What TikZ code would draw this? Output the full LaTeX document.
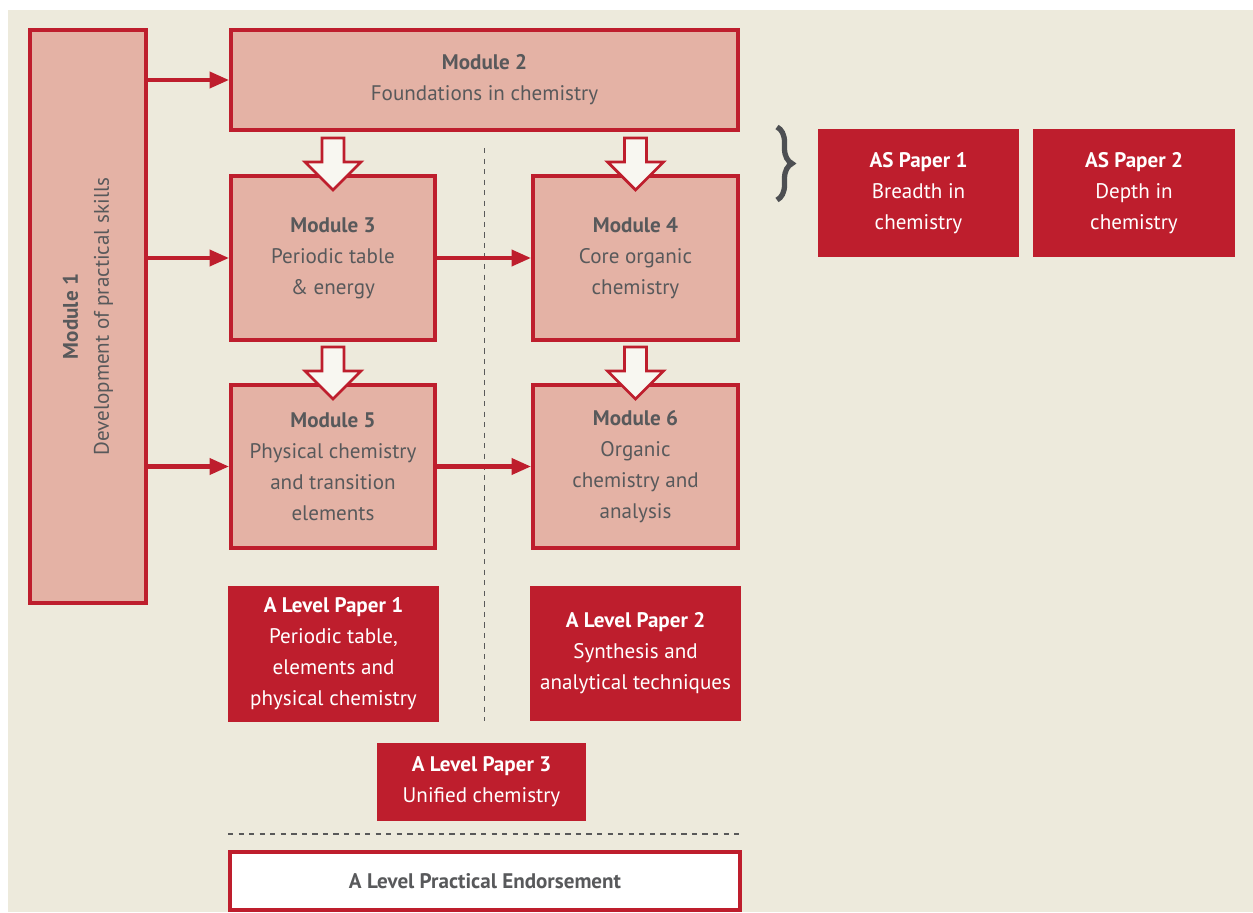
\documentclass[tikz,border=0pt]{standalone}
\usepackage{fontspec}
\setmainfont{PT Sans}
\usetikzlibrary{arrows.meta,calc,decorations.pathreplacing}
\definecolor{ocrred}{HTML}{BE1E2D}
\definecolor{modfill}{HTML}{E4B2A5}
\definecolor{paper}{HTML}{EDEADC}
\definecolor{inkgray}{HTML}{58595B}
\definecolor{bracegray}{HTML}{4D4F52}

% hollow block arrow pointing down onto a module
\newcommand{\blockdown}[1]{%
  \draw[hollow] ($(#1.north)+(0,16)$) -- ++(-28,-28) -- ++(17,0) -- ++(0,-24)
    -- ++(22,0) -- ++(0,24) -- ++(17,0) -- cycle;}

\begin{document}
\begin{tikzpicture}[
        x=0.02cm, y=-0.02cm,
        every node/.style={font=\fontsize{12}{17.6}\selectfont, align=center, inner sep=0pt},
        module/.style={draw=ocrred, line width=2.3pt, fill=modfill, text=inkgray},
        paperbox/.style={fill=ocrred, text=white},
        arrow/.style={-{Triangle[length=11pt,width=9pt]}, line width=2.3pt, ocrred},
        hollow/.style={draw=ocrred, line width=1.6pt, fill=white!60!paper, line join=miter},
        sep/.style={dashed, gray!70!black, line width=0.6pt}
    ]

        % Sfondo
        \useasboundingbox (0,0) rectangle (1253,912);
        \fill[paper] (8,10) rectangle (1253,912);

        % Module 1 (verticale)
        \node[module, minimum width=2.32cm, minimum height=11.46cm] (m1) at (88,316.5) {};
        \node[rotate=90, text=inkgray] (m1txt) at (m1) {\textbf{Module 1}\\Development of practical skills};

        % Moduli
        \node[module, minimum width=10.14cm, minimum height=2cm] (m2) at (484.5,80) {\textbf{Module 2}\\Foundations in chemistry};
        \node[module, minimum width=4.08cm, minimum height=3.28cm] (m3) at (333,258) {\textbf{Module 3}\\Periodic table\\\& energy};
        \node[module, minimum width=4.10cm, minimum height=3.28cm] (m4) at (635.5,258) {\textbf{Module 4}\\Core organic\\chemistry};
        \node[module, minimum width=4.08cm, minimum height=3.26cm] (m5) at (333,466.5) {\textbf{Module 5}\\Physical chemistry\\and transition\\elements};
        \node[module, minimum width=4.10cm, minimum height=3.26cm] (m6) at (635.5,466.5) {\textbf{Module 6}\\Organic\\chemistry and\\analysis};

        % Papers AS
        \node[paperbox, minimum width=4.02cm, minimum height=2.56cm] (as1) at (918.5,193) {\textbf{AS Paper 1}\\Breadth in\\chemistry};
        \node[paperbox, minimum width=4.04cm, minimum height=2.56cm] (as2) at (1134,193) {\textbf{AS Paper 2}\\Depth in\\chemistry};
        \draw[bracegray, line width=3pt, decorate, decoration={brace, amplitude=0.3cm}]
            (777,127) coordinate (brtop) -- (777,200) coordinate (brbot);

        % Papers A Level
        \node[paperbox, minimum width=4.22cm, minimum height=2.72cm] (alp1) at (333.5,654) {\textbf{A Level Paper 1}\\Periodic table,\\elements and\\physical chemistry};
        \node[paperbox, minimum width=4.22cm, minimum height=2.70cm] (alp2) at (635.5,653.5) {\textbf{A Level Paper 2}\\Synthesis and\\analytical techniques};
        \node[paperbox, minimum width=4.18cm, minimum height=1.56cm] (alp3) at (481.5,782) {\textbf{A Level Paper 3}\\Unified chemistry};

        % Endorsement
        \node[module, fill=white, minimum width=10.2cm, minimum height=1.16cm] (endo) at (485,881) {\textbf{A Level Practical Endorsement}};

        % Separatori
        \draw[sep] ([yshift=-0.32cm]m2.south) -- (m2.south |- alp2.south);
        \draw[sep] ([yshift=0.32cm]endo.north west) -- ([yshift=0.32cm]endo.north east);

        % Archi
        \draw[arrow] (m1.east |- m2.west) -- (m2.west);
        \draw[arrow] (m1.east |- m3.west) -- (m3.west);
        \draw[arrow] (m1.east |- m5.west) -- (m5.west);
        \draw[arrow] (m3.east) -- (m4.west);
        \draw[arrow] (m5.east) -- (m6.west);

        % Frecce vuote
        \blockdown{m3}
        \blockdown{m4}
        \blockdown{m5}
        \blockdown{m6}

    \end{tikzpicture}
\end{document}
